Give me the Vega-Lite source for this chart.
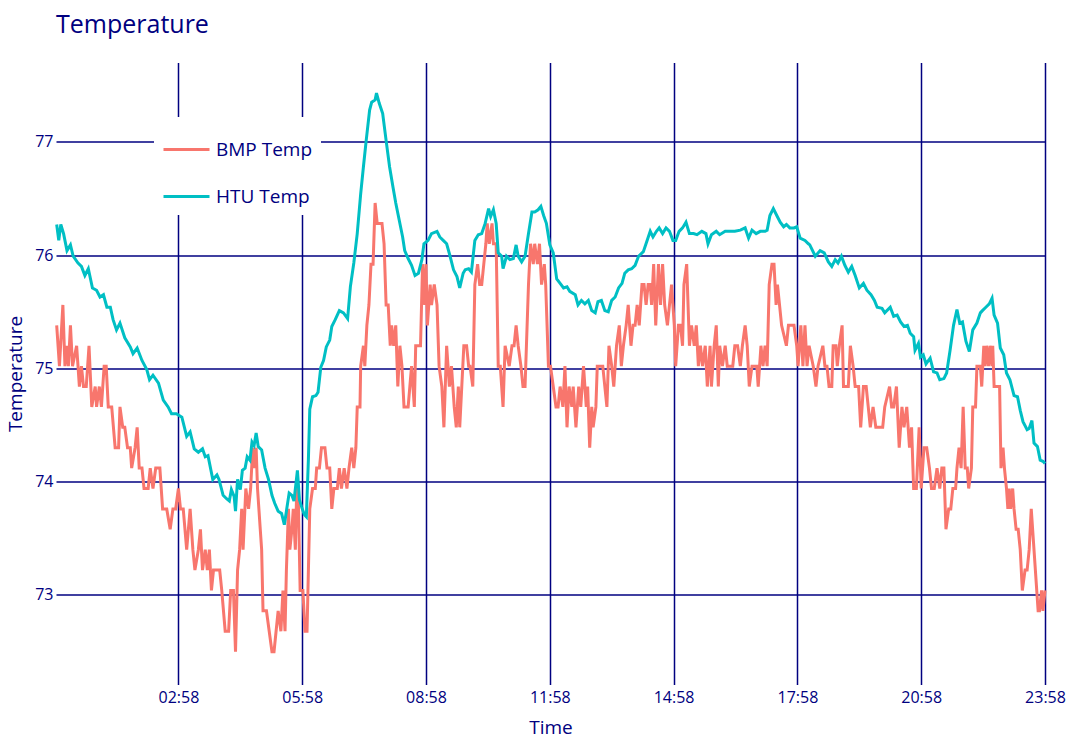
{
"$schema":"https://vega.github.io/schema/vega-lite/v6.json",
"width":989,"height":622,
"autosize":{"type":"none"},
"padding":{"left":56,"top":62.5,"right":24,"bottom":60},
"background":"white",
"config":{"font":"Open Sans","view":{"stroke":null},
"axis":{"domain":false,"ticks":false,"grid":true,"gridColor":"#000080","gridWidth":1.5,"gridOpacity":1,"labelColor":"#000080","labelFontSize":16,"titleColor":"#000080","titleFontSize":19,"titleFontWeight":"normal"}},
"title":{"text":"Temperature","anchor":"start","frame":"group","fontSize":25,"fontWeight":"normal","color":"#000080","baseline":"alphabetic","offset":5},
"datasets":{
"bmp":[
{"minute":1,"temp":75.38},{"minute":5,"temp":75.02},{"minute":10,"temp":75.56},{"minute":13,"temp":75.02},{"minute":16,"temp":75.2},{"minute":18,"temp":75.02},{"minute":21,"temp":75.38},{"minute":24,"temp":75.02},{"minute":30,"temp":75.2},{"minute":34,"temp":74.84},{"minute":37,"temp":75.02},{"minute":40,"temp":74.84},{"minute":44,"temp":74.84},{"minute":48,"temp":75.2},{"minute":52,"temp":74.66},{"minute":57,"temp":74.84},{"minute":59,"temp":74.66},{"minute":63,"temp":74.84},{"minute":66,"temp":74.66},{"minute":70,"temp":75.02},{"minute":73,"temp":75.02},{"minute":76,"temp":74.66},{"minute":81,"temp":74.66},{"minute":86,"temp":74.3},{"minute":91,"temp":74.3},{"minute":93,"temp":74.66},{"minute":97,"temp":74.48},{"minute":100,"temp":74.48},{"minute":104,"temp":74.3},{"minute":108,"temp":74.3},{"minute":110,"temp":74.12},{"minute":115,"temp":74.3},{"minute":118,"temp":74.48},{"minute":121,"temp":74.12},{"minute":125,"temp":74.12},{"minute":128,"temp":73.94},{"minute":134,"temp":73.94},{"minute":137,"temp":74.12},{"minute":141,"temp":73.94},{"minute":145,"temp":74.12},{"minute":151,"temp":74.12},{"minute":155,"temp":73.76},{"minute":161,"temp":73.76},{"minute":166,"temp":73.58},{"minute":170,"temp":73.76},{"minute":174,"temp":73.76},{"minute":178,"temp":73.94},{"minute":181,"temp":73.76},{"minute":185,"temp":73.76},{"minute":190,"temp":73.4},{"minute":195,"temp":73.76},{"minute":199,"temp":73.4},{"minute":202,"temp":73.22},{"minute":207,"temp":73.4},{"minute":210,"temp":73.58},{"minute":213,"temp":73.22},{"minute":217,"temp":73.4},{"minute":220,"temp":73.22},{"minute":223,"temp":73.4},{"minute":226,"temp":73.04},{"minute":229,"temp":73.22},{"minute":234,"temp":73.22},{"minute":238,"temp":73.22},{"minute":241,"temp":73.04},{"minute":246,"temp":72.68},{"minute":251,"temp":72.68},{"minute":254,"temp":73.04},{"minute":258,"temp":73.04},{"minute":261,"temp":72.5},{"minute":264,"temp":73.22},{"minute":267,"temp":73.4},{"minute":270,"temp":73.76},{"minute":272,"temp":73.4},{"minute":276,"temp":73.94},{"minute":280,"temp":73.76},{"minute":283,"temp":73.94},{"minute":286,"temp":74.3},{"minute":288,"temp":74.12},{"minute":291,"temp":74.3},{"minute":293,"temp":73.94},{"minute":297,"temp":73.58},{"minute":299,"temp":73.4},{"minute":301,"temp":72.86},{"minute":306,"temp":72.86},{"minute":310,"temp":72.68},{"minute":314,"temp":72.5},{"minute":317,"temp":72.5},{"minute":320,"temp":72.68},{"minute":323,"temp":72.86},{"minute":327,"temp":72.68},{"minute":330,"temp":73.04},{"minute":333,"temp":72.68},{"minute":335,"temp":73.22},{"minute":338,"temp":73.76},{"minute":340,"temp":73.4},{"minute":343,"temp":73.58},{"minute":345,"temp":73.76},{"minute":348,"temp":73.4},{"minute":350,"temp":73.94},{"minute":352,"temp":73.94},{"minute":355,"temp":73.04},{"minute":359,"temp":73.04},{"minute":362,"temp":72.68},{"minute":365,"temp":72.68},{"minute":367,"temp":73.22},{"minute":369,"temp":73.76},{"minute":373,"temp":73.94},{"minute":377,"temp":73.94},{"minute":379,"temp":74.12},{"minute":383,"temp":74.12},{"minute":386,"temp":74.3},{"minute":391,"temp":74.3},{"minute":394,"temp":74.12},{"minute":398,"temp":74.12},{"minute":401,"temp":73.76},{"minute":404,"temp":73.94},{"minute":409,"temp":73.94},{"minute":412,"temp":74.12},{"minute":415,"temp":73.94},{"minute":419,"temp":74.12},{"minute":423,"temp":73.94},{"minute":426,"temp":74.12},{"minute":430,"temp":74.3},{"minute":433,"temp":74.12},{"minute":436,"temp":74.3},{"minute":438,"temp":74.66},{"minute":442,"temp":74.66},{"minute":443,"temp":75.02},{"minute":447,"temp":75.2},{"minute":449,"temp":75.02},{"minute":452,"temp":75.38},{"minute":455,"temp":75.56},{"minute":458,"temp":75.92},{"minute":461,"temp":75.92},{"minute":464,"temp":76.46},{"minute":467,"temp":76.28},{"minute":474,"temp":76.28},{"minute":477,"temp":76.1},{"minute":480,"temp":75.56},{"minute":483,"temp":75.56},{"minute":486,"temp":75.2},{"minute":488,"temp":75.38},{"minute":491,"temp":75.2},{"minute":494,"temp":75.38},{"minute":497,"temp":74.84},{"minute":500,"temp":75.2},{"minute":503,"temp":75.02},{"minute":506,"temp":74.66},{"minute":512,"temp":74.66},{"minute":517,"temp":75.02},{"minute":521,"temp":74.66},{"minute":523,"temp":75.2},{"minute":527,"temp":75.2},{"minute":530,"temp":75.2},{"minute":533,"temp":75.92},{"minute":536,"temp":75.56},{"minute":538,"temp":75.92},{"minute":540,"temp":75.38},{"minute":544,"temp":75.74},{"minute":546,"temp":75.56},{"minute":550,"temp":75.74},{"minute":554,"temp":75.56},{"minute":557,"temp":75.02},{"minute":561,"temp":74.84},{"minute":564,"temp":74.48},{"minute":568,"temp":75.2},{"minute":572,"temp":74.84},{"minute":575,"temp":75.02},{"minute":579,"temp":74.66},{"minute":582,"temp":74.48},{"minute":585,"temp":74.84},{"minute":587,"temp":74.48},{"minute":590,"temp":74.84},{"minute":593,"temp":75.2},{"minute":597,"temp":75.2},{"minute":600,"temp":75.02},{"minute":602,"temp":75.02},{"minute":606,"temp":74.84},{"minute":609,"temp":75.74},{"minute":613,"temp":75.92},{"minute":616,"temp":75.74},{"minute":619,"temp":75.74},{"minute":622,"temp":75.92},{"minute":625,"temp":76.1},{"minute":627,"temp":76.28},{"minute":630,"temp":76.1},{"minute":634,"temp":76.28},{"minute":636,"temp":76.1},{"minute":640,"temp":76.1},{"minute":643,"temp":75.02},{"minute":646,"temp":75.02},{"minute":650,"temp":74.66},{"minute":653,"temp":75.2},{"minute":659,"temp":75.02},{"minute":663,"temp":75.2},{"minute":666,"temp":75.2},{"minute":669,"temp":75.38},{"minute":672,"temp":75.2},{"minute":676,"temp":75.02},{"minute":679,"temp":74.84},{"minute":682,"temp":74.84},{"minute":684,"temp":75.2},{"minute":687,"temp":75.74},{"minute":690,"temp":76.1},{"minute":694,"temp":75.92},{"minute":696,"temp":76.1},{"minute":700,"temp":75.92},{"minute":703,"temp":76.1},{"minute":706,"temp":75.74},{"minute":710,"temp":75.92},{"minute":712,"temp":75.74},{"minute":716,"temp":75.02},{"minute":719,"temp":75.02},{"minute":723,"temp":74.84},{"minute":727,"temp":74.66},{"minute":730,"temp":74.66},{"minute":733,"temp":74.84},{"minute":737,"temp":74.66},{"minute":740,"temp":75.02},{"minute":743,"temp":74.48},{"minute":746,"temp":74.84},{"minute":750,"temp":74.66},{"minute":752,"temp":74.84},{"minute":756,"temp":74.48},{"minute":760,"temp":74.84},{"minute":763,"temp":74.66},{"minute":767,"temp":75.02},{"minute":771,"temp":74.66},{"minute":773,"temp":74.84},{"minute":776,"temp":74.3},{"minute":779,"temp":74.66},{"minute":781,"temp":74.48},{"minute":785,"temp":74.66},{"minute":787,"temp":75.02},{"minute":795,"temp":75.02},{"minute":798,"temp":74.84},{"minute":801,"temp":74.66},{"minute":804,"temp":75.2},{"minute":808,"temp":75.02},{"minute":811,"temp":74.84},{"minute":815,"temp":75.2},{"minute":819,"temp":75.38},{"minute":822,"temp":75.02},{"minute":825,"temp":75.2},{"minute":829,"temp":75.38},{"minute":832,"temp":75.56},{"minute":836,"temp":75.2},{"minute":839,"temp":75.38},{"minute":842,"temp":75.38},{"minute":845,"temp":75.56},{"minute":848,"temp":75.38},{"minute":852,"temp":75.74},{"minute":855,"temp":75.74},{"minute":858,"temp":75.56},{"minute":861,"temp":75.74},{"minute":864,"temp":75.74},{"minute":866,"temp":75.56},{"minute":869,"temp":75.92},{"minute":872,"temp":75.38},{"minute":876,"temp":75.92},{"minute":879,"temp":75.56},{"minute":882,"temp":75.92},{"minute":885,"temp":75.56},{"minute":889,"temp":75.38},{"minute":892,"temp":75.56},{"minute":895,"temp":75.74},{"minute":899,"temp":75.38},{"minute":901,"temp":75.02},{"minute":905,"temp":75.38},{"minute":908,"temp":75.38},{"minute":911,"temp":75.2},{"minute":913,"temp":75.74},{"minute":917,"temp":75.92},{"minute":921,"temp":75.2},{"minute":924,"temp":75.38},{"minute":928,"temp":75.2},{"minute":931,"temp":75.38},{"minute":934,"temp":75.02},{"minute":937,"temp":75.2},{"minute":940,"temp":75.02},{"minute":944,"temp":75.2},{"minute":947,"temp":74.84},{"minute":951,"temp":75.2},{"minute":953,"temp":74.84},{"minute":957,"temp":75.2},{"minute":960,"temp":75.38},{"minute":963,"temp":74.84},{"minute":965,"temp":75.2},{"minute":969,"temp":75.02},{"minute":973,"temp":75.2},{"minute":976,"temp":75.02},{"minute":984,"temp":75.02},{"minute":987,"temp":75.2},{"minute":991,"temp":75.2},{"minute":995,"temp":75.02},{"minute":998,"temp":75.2},{"minute":1002,"temp":75.38},{"minute":1005,"temp":75.2},{"minute":1008,"temp":74.84},{"minute":1012,"temp":75.02},{"minute":1019,"temp":75.02},{"minute":1021,"temp":74.84},{"minute":1025,"temp":75.2},{"minute":1028,"temp":75.02},{"minute":1031,"temp":75.2},{"minute":1034,"temp":75.02},{"minute":1037,"temp":75.74},{"minute":1041,"temp":75.92},{"minute":1044,"temp":75.92},{"minute":1047,"temp":75.56},{"minute":1049,"temp":75.74},{"minute":1052,"temp":75.56},{"minute":1055,"temp":75.38},{"minute":1062,"temp":75.2},{"minute":1065,"temp":75.38},{"minute":1073,"temp":75.38},{"minute":1077,"temp":75.2},{"minute":1079,"temp":75.02},{"minute":1083,"temp":75.38},{"minute":1086,"temp":75.02},{"minute":1089,"temp":75.38},{"minute":1092,"temp":75.02},{"minute":1095,"temp":75.2},{"minute":1101,"temp":75.02},{"minute":1105,"temp":74.84},{"minute":1108,"temp":75.02},{"minute":1115,"temp":75.2},{"minute":1118,"temp":75.02},{"minute":1121,"temp":75.02},{"minute":1124,"temp":74.84},{"minute":1128,"temp":74.84},{"minute":1130,"temp":75.2},{"minute":1134,"temp":75.2},{"minute":1136,"temp":75.02},{"minute":1139,"temp":75.2},{"minute":1143,"temp":75.38},{"minute":1145,"temp":74.84},{"minute":1152,"temp":74.84},{"minute":1155,"temp":75.2},{"minute":1159,"temp":75.02},{"minute":1162,"temp":74.84},{"minute":1167,"temp":74.84},{"minute":1170,"temp":74.48},{"minute":1174,"temp":74.84},{"minute":1178,"temp":74.84},{"minute":1181,"temp":74.66},{"minute":1184,"temp":74.48},{"minute":1188,"temp":74.66},{"minute":1192,"temp":74.48},{"minute":1202,"temp":74.48},{"minute":1205,"temp":74.66},{"minute":1212,"temp":74.84},{"minute":1215,"temp":74.66},{"minute":1218,"temp":74.66},{"minute":1222,"temp":74.84},{"minute":1226,"temp":74.3},{"minute":1230,"temp":74.66},{"minute":1233,"temp":74.48},{"minute":1237,"temp":74.66},{"minute":1241,"temp":74.3},{"minute":1244,"temp":74.48},{"minute":1247,"temp":73.94},{"minute":1251,"temp":73.94},{"minute":1255,"temp":74.48},{"minute":1258,"temp":73.94},{"minute":1262,"temp":74.3},{"minute":1266,"temp":74.3},{"minute":1270,"temp":74.12},{"minute":1273,"temp":73.94},{"minute":1277,"temp":73.94},{"minute":1281,"temp":74.12},{"minute":1285,"temp":73.94},{"minute":1288,"temp":74.12},{"minute":1291,"temp":74.12},{"minute":1294,"temp":73.58},{"minute":1298,"temp":73.76},{"minute":1301,"temp":73.76},{"minute":1304,"temp":73.94},{"minute":1308,"temp":73.94},{"minute":1310,"temp":74.12},{"minute":1313,"temp":74.3},{"minute":1316,"temp":74.12},{"minute":1319,"temp":74.66},{"minute":1322,"temp":74.12},{"minute":1325,"temp":74.12},{"minute":1327,"temp":73.94},{"minute":1331,"temp":74.12},{"minute":1333,"temp":74.66},{"minute":1337,"temp":74.66},{"minute":1339,"temp":75.02},{"minute":1341,"temp":75.02},{"minute":1344,"temp":75.02},{"minute":1346,"temp":74.84},{"minute":1349,"temp":75.2},{"minute":1351,"temp":75.02},{"minute":1353,"temp":75.2},{"minute":1356,"temp":75.02},{"minute":1358,"temp":75.2},{"minute":1361,"temp":75.02},{"minute":1362,"temp":75.2},{"minute":1364,"temp":74.84},{"minute":1372,"temp":74.84},{"minute":1374,"temp":74.12},{"minute":1377,"temp":74.3},{"minute":1379,"temp":74.12},{"minute":1382,"temp":73.94},{"minute":1384,"temp":73.76},{"minute":1386,"temp":73.94},{"minute":1388,"temp":73.76},{"minute":1391,"temp":73.94},{"minute":1393,"temp":73.76},{"minute":1396,"temp":73.58},{"minute":1399,"temp":73.58},{"minute":1402,"temp":73.4},{"minute":1405,"temp":73.04},{"minute":1409,"temp":73.22},{"minute":1412,"temp":73.22},{"minute":1415,"temp":73.4},{"minute":1418,"temp":73.76},{"minute":1422,"temp":73.4},{"minute":1424,"temp":73.22},{"minute":1428,"temp":72.86},{"minute":1430,"temp":72.86},{"minute":1433,"temp":73.04},{"minute":1435,"temp":72.86},{"minute":1438,"temp":73.04}
],
"htu":[
{"minute":1,"temp":76.27},{"minute":4,"temp":76.13},{"minute":7,"temp":76.27},{"minute":11,"temp":76.19},{"minute":16,"temp":76.04},{"minute":21,"temp":76.09},{"minute":25,"temp":75.99},{"minute":32,"temp":75.93},{"minute":37,"temp":75.9},{"minute":42,"temp":75.82},{"minute":47,"temp":75.88},{"minute":53,"temp":75.71},{"minute":59,"temp":75.69},{"minute":64,"temp":75.63},{"minute":69,"temp":75.65},{"minute":74,"temp":75.54},{"minute":79,"temp":75.54},{"minute":83,"temp":75.43},{"minute":88,"temp":75.34},{"minute":93,"temp":75.4},{"minute":100,"temp":75.27},{"minute":108,"temp":75.19},{"minute":112,"temp":75.13},{"minute":118,"temp":75.18},{"minute":125,"temp":75.07},{"minute":132,"temp":74.99},{"minute":136,"temp":74.9},{"minute":141,"temp":74.94},{"minute":149,"temp":74.87},{"minute":156,"temp":74.72},{"minute":163,"temp":74.66},{"minute":168,"temp":74.6},{"minute":175,"temp":74.6},{"minute":183,"temp":74.57},{"minute":190,"temp":74.4},{"minute":195,"temp":74.44},{"minute":201,"temp":74.29},{"minute":207,"temp":74.26},{"minute":213,"temp":74.29},{"minute":217,"temp":74.22},{"minute":221,"temp":74.23},{"minute":228,"temp":74.02},{"minute":234,"temp":74.06},{"minute":237,"temp":74.02},{"minute":243,"temp":73.88},{"minute":248,"temp":73.85},{"minute":252,"temp":73.83},{"minute":255,"temp":73.93},{"minute":259,"temp":73.87},{"minute":261,"temp":73.74},{"minute":264,"temp":74.02},{"minute":268,"temp":73.93},{"minute":271,"temp":74.1},{"minute":275,"temp":74.12},{"minute":278,"temp":74.22},{"minute":282,"temp":74.19},{"minute":285,"temp":74.35},{"minute":288,"temp":74.32},{"minute":291,"temp":74.43},{"minute":294,"temp":74.31},{"minute":299,"temp":74.28},{"minute":304,"temp":74.12},{"minute":309,"temp":74.02},{"minute":314,"temp":73.88},{"minute":318,"temp":73.81},{"minute":323,"temp":73.74},{"minute":328,"temp":73.72},{"minute":332,"temp":73.62},{"minute":335,"temp":73.74},{"minute":339,"temp":73.9},{"minute":343,"temp":73.88},{"minute":346,"temp":73.83},{"minute":349,"temp":73.99},{"minute":351,"temp":74.1},{"minute":354,"temp":73.84},{"minute":357,"temp":73.78},{"minute":361,"temp":73.71},{"minute":364,"temp":73.69},{"minute":367,"temp":74.2},{"minute":369,"temp":74.64},{"minute":373,"temp":74.75},{"minute":378,"temp":74.76},{"minute":381,"temp":74.79},{"minute":385,"temp":75.01},{"minute":389,"temp":75.07},{"minute":393,"temp":75.19},{"minute":398,"temp":75.25},{"minute":401,"temp":75.37},{"minute":406,"temp":75.43},{"minute":412,"temp":75.51},{"minute":418,"temp":75.49},{"minute":424,"temp":75.44},{"minute":428,"temp":75.72},{"minute":433,"temp":75.93},{"minute":438,"temp":76.19},{"minute":443,"temp":76.54},{"minute":447,"temp":76.78},{"minute":451,"temp":77.01},{"minute":456,"temp":77.28},{"minute":459,"temp":77.35},{"minute":464,"temp":77.37},{"minute":466,"temp":77.43},{"minute":470,"temp":77.34},{"minute":475,"temp":77.25},{"minute":480,"temp":77.01},{"minute":485,"temp":76.78},{"minute":490,"temp":76.6},{"minute":494,"temp":76.46},{"minute":499,"temp":76.31},{"minute":504,"temp":76.16},{"minute":507,"temp":76.04},{"minute":512,"temp":75.97},{"minute":517,"temp":75.91},{"minute":522,"temp":75.82},{"minute":527,"temp":75.84},{"minute":532,"temp":75.96},{"minute":535,"temp":76.1},{"minute":541,"temp":76.13},{"minute":546,"temp":76.19},{"minute":554,"temp":76.21},{"minute":558,"temp":76.16},{"minute":563,"temp":76.13},{"minute":568,"temp":76.1},{"minute":573,"temp":75.99},{"minute":578,"temp":75.87},{"minute":583,"temp":75.81},{"minute":587,"temp":75.71},{"minute":592,"temp":75.84},{"minute":595,"temp":75.87},{"minute":600,"temp":75.88},{"minute":604,"temp":75.85},{"minute":609,"temp":76.13},{"minute":614,"temp":76.18},{"minute":619,"temp":76.19},{"minute":624,"temp":76.28},{"minute":629,"temp":76.41},{"minute":632,"temp":76.34},{"minute":636,"temp":76.4},{"minute":640,"temp":76.28},{"minute":643,"temp":76.02},{"minute":648,"temp":75.99},{"minute":650,"temp":75.88},{"minute":655,"temp":75.99},{"minute":660,"temp":75.96},{"minute":665,"temp":75.97},{"minute":669,"temp":76.09},{"minute":672,"temp":75.99},{"minute":677,"temp":75.94},{"minute":682,"temp":75.99},{"minute":687,"temp":76.19},{"minute":692,"temp":76.38},{"minute":696,"temp":76.38},{"minute":701,"temp":76.4},{"minute":705,"temp":76.43},{"minute":709,"temp":76.35},{"minute":713,"temp":76.28},{"minute":718,"temp":76.09},{"minute":723,"temp":76.02},{"minute":728,"temp":75.79},{"minute":733,"temp":75.75},{"minute":738,"temp":75.71},{"minute":743,"temp":75.72},{"minute":747,"temp":75.68},{"minute":755,"temp":75.65},{"minute":759,"temp":75.56},{"minute":764,"temp":75.6},{"minute":769,"temp":75.57},{"minute":774,"temp":75.6},{"minute":779,"temp":75.51},{"minute":784,"temp":75.49},{"minute":788,"temp":75.59},{"minute":793,"temp":75.6},{"minute":798,"temp":75.51},{"minute":803,"temp":75.5},{"minute":808,"temp":75.6},{"minute":813,"temp":75.63},{"minute":818,"temp":75.71},{"minute":823,"temp":75.75},{"minute":827,"temp":75.84},{"minute":832,"temp":75.87},{"minute":837,"temp":75.88},{"minute":842,"temp":75.91},{"minute":847,"temp":75.99},{"minute":854,"temp":76.03},{"minute":859,"temp":76.12},{"minute":864,"temp":76.21},{"minute":868,"temp":76.16},{"minute":873,"temp":76.21},{"minute":877,"temp":76.24},{"minute":882,"temp":76.19},{"minute":887,"temp":76.24},{"minute":892,"temp":76.21},{"minute":897,"temp":76.13},{"minute":901,"temp":76.13},{"minute":906,"temp":76.21},{"minute":911,"temp":76.24},{"minute":916,"temp":76.29},{"minute":921,"temp":76.19},{"minute":927,"temp":76.19},{"minute":932,"temp":76.18},{"minute":939,"temp":76.21},{"minute":945,"temp":76.19},{"minute":948,"temp":76.1},{"minute":953,"temp":76.18},{"minute":960,"temp":76.21},{"minute":965,"temp":76.18},{"minute":973,"temp":76.21},{"minute":980,"temp":76.21},{"minute":987,"temp":76.21},{"minute":995,"temp":76.22},{"minute":1002,"temp":76.24},{"minute":1007,"temp":76.15},{"minute":1012,"temp":76.22},{"minute":1018,"temp":76.19},{"minute":1024,"temp":76.21},{"minute":1031,"temp":76.21},{"minute":1034,"temp":76.22},{"minute":1038,"temp":76.35},{"minute":1043,"temp":76.41},{"minute":1048,"temp":76.35},{"minute":1053,"temp":76.29},{"minute":1058,"temp":76.25},{"minute":1062,"temp":76.27},{"minute":1067,"temp":76.24},{"minute":1073,"temp":76.24},{"minute":1077,"temp":76.25},{"minute":1082,"temp":76.15},{"minute":1089,"temp":76.13},{"minute":1094,"temp":76.1},{"minute":1096,"temp":76.09},{"minute":1104,"temp":75.99},{"minute":1111,"temp":76.04},{"minute":1117,"temp":76.02},{"minute":1123,"temp":75.94},{"minute":1128,"temp":75.9},{"minute":1133,"temp":75.96},{"minute":1137,"temp":75.93},{"minute":1142,"temp":75.99},{"minute":1147,"temp":75.91},{"minute":1152,"temp":75.85},{"minute":1157,"temp":75.9},{"minute":1162,"temp":75.82},{"minute":1168,"temp":75.71},{"minute":1174,"temp":75.75},{"minute":1179,"temp":75.69},{"minute":1185,"temp":75.65},{"minute":1190,"temp":75.6},{"minute":1194,"temp":75.54},{"minute":1201,"temp":75.53},{"minute":1205,"temp":75.49},{"minute":1213,"temp":75.54},{"minute":1218,"temp":75.46},{"minute":1223,"temp":75.47},{"minute":1228,"temp":75.41},{"minute":1233,"temp":75.37},{"minute":1238,"temp":75.38},{"minute":1242,"temp":75.31},{"minute":1247,"temp":75.28},{"minute":1249,"temp":75.16},{"minute":1254,"temp":75.22},{"minute":1257,"temp":75.1},{"minute":1261,"temp":75.12},{"minute":1265,"temp":75.04},{"minute":1271,"temp":75.09},{"minute":1276,"temp":74.97},{"minute":1281,"temp":74.96},{"minute":1285,"temp":74.9},{"minute":1291,"temp":74.91},{"minute":1295,"temp":74.96},{"minute":1300,"temp":75.16},{"minute":1305,"temp":75.38},{"minute":1310,"temp":75.52},{"minute":1314,"temp":75.4},{"minute":1318,"temp":75.41},{"minute":1323,"temp":75.24},{"minute":1328,"temp":75.15},{"minute":1333,"temp":75.34},{"minute":1339,"temp":75.4},{"minute":1344,"temp":75.49},{"minute":1347,"temp":75.51},{"minute":1352,"temp":75.54},{"minute":1357,"temp":75.57},{"minute":1361,"temp":75.62},{"minute":1364,"temp":75.47},{"minute":1369,"temp":75.4},{"minute":1373,"temp":75.18},{"minute":1378,"temp":75.12},{"minute":1382,"temp":74.96},{"minute":1387,"temp":74.9},{"minute":1393,"temp":74.76},{"minute":1398,"temp":74.75},{"minute":1402,"temp":74.63},{"minute":1406,"temp":74.53},{"minute":1412,"temp":74.46},{"minute":1415,"temp":74.47},{"minute":1419,"temp":74.54},{"minute":1422,"temp":74.34},{"minute":1427,"temp":74.31},{"minute":1431,"temp":74.19},{"minute":1435,"temp":74.18},{"minute":1438,"temp":74.16}
]
},
"encoding":{
"x":{"field":"minute","type":"quantitative","scale":{"domain":[0,1438],"nice":false,"zero":false},
"axis":{"values":[178,358,538,718,898,1078,1258,1438],"labelExpr":"(datum.value < 600 ? '0' : '') + floor(datum.value/60) + ':' + (datum.value % 60 < 10 ? '0' : '') + (datum.value % 60)","labelPadding":5,"labelFlush":false,"title":"Time","titlePadding":13}},
"y":{"field":"temp","type":"quantitative","scale":{"domain":[72.21,77.7],"nice":false,"zero":false},
"axis":{"values":[73,74,75,76,77],"title":"Temperature","labelPadding":3,"titlePadding":9}}
},
"layer":[
{"data":{"name":"bmp"},"mark":{"type":"line","strokeWidth":3},
"encoding":{"color":{"datum":"BMP Temp","type":"nominal","scale":{"domain":["BMP Temp","HTU Temp"],"range":["#F8766D","#00BFC4"]},
"legend":{"orient":"none","legendX":98,"legendY":54.5,"title":null,"fillColor":"white","padding":8,"symbolType":"stroke","symbolSize":2116,"symbolStrokeWidth":3,"labelFontSize":19,"labelColor":"#000080","labelOffset":5,"rowPadding":12}}}},
{"data":{"name":"htu"},"mark":{"type":"line","strokeWidth":3},
"encoding":{"color":{"datum":"HTU Temp","type":"nominal"}}}
]
}
